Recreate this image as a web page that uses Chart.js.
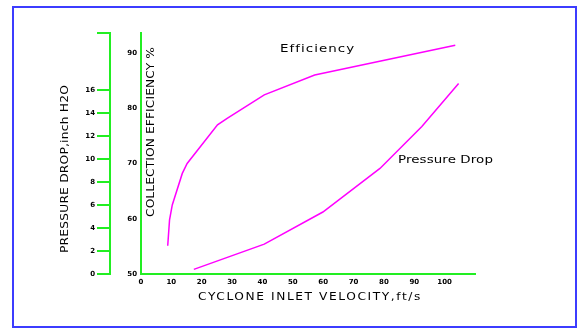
<!DOCTYPE html>
<html>
<head>
<meta charset="utf-8">
<script src="https://cdn.jsdelivr.net/npm/chart.js@4"></script>
<style>
    html, body { margin: 0; padding: 0; background: #fff; }
    #wrap { width: 577px; height: 329px; }
</style>
</head>
<body>
<div id="wrap"><canvas id="chartCiclon"></canvas></div>
<script>
const velocidadEfic = [8.8, 9.4, 10.3, 13.6, 15.2, 25.2, 28.5, 40.6, 57.2, 103.5];
const eficiencia = [55.1, 59.8, 62.5, 68.2, 70.0, 77.0, 78.2, 82.4, 86.0, 91.4];
const velocidadPres = [17.4, 40.6, 59.9, 78.7, 92.5, 104.6];
const presion = [0.4, 2.6, 5.4, 9.2, 12.85, 16.6];

const ticksX = [0, 10, 20, 30, 40, 50, 60, 70, 80, 90, 100];
const ticksEfic = [50, 60, 70, 80, 90];
const ticksPres = [0, 2, 4, 6, 8, 10, 12, 14, 16];

const tituloX = 'CYCLONE INLET VELOCITY,ft/s';
const tituloPres = 'PRESSURE DROP,inch H2O';
const tituloEfic = 'COLLECTION EFFICIENCY %';

const verde = '#22ee22';
const magenta = '#ff00ff';
const fuenteTicks = { family: 'DejaVu Sans', size: 7, weight: 'bold' };

// texto ajustado a un ancho: primero se ensancha un poco, luego letterSpacing
const textoAncho = (ctx, texto, x, y, ancho, angulo = 0) => {
    ctx.save();
    ctx.translate(x, y);
    ctx.rotate(angulo);
    ctx.letterSpacing = '0px';
    const w = ctx.measureText(texto).width;
    const escala = Math.min(1.22, ancho / w);
    const esp = Math.max(0, (ancho / escala - w) / texto.length);
    ctx.scale(escala, 1);
    ctx.letterSpacing = esp + 'px';
    ctx.textAlign = 'left';
    ctx.textBaseline = 'middle';
    ctx.fillText(texto, -ancho / escala / 2, 0);
    ctx.restore();
};

const textos = {
    id: 'textos',
    beforeDraw(chart) {
        const ctx = chart.ctx;
        ctx.save();
        ctx.fillStyle = '#fff';
        ctx.fillRect(0, 0, chart.width, chart.height);
        ctx.strokeStyle = '#3c3cff';
        ctx.lineWidth = 2;
        ctx.strokeRect(13, 7, 563, 320);
        ctx.restore();
    },
    afterDraw(chart) {
        const ctx = chart.ctx;
        ctx.save();
        ctx.fillStyle = '#000';
        ctx.font = '10px "DejaVu Sans"';
        textoAncho(ctx, tituloX, 310, 297, 224);
        textoAncho(ctx, tituloPres, 65, 169, 168, -Math.PI / 2);
        textoAncho(ctx, tituloEfic, 151.5, 132, 170, -Math.PI / 2);
        ctx.font = '11px "DejaVu Sans"';
        textoAncho(ctx, chart.data.datasets[0].label, 317.5, 49, 75);
        textoAncho(ctx, chart.data.datasets[1].label, 445.5, 160.5, 95);
        ctx.restore();
    }
};

const ctx = document.getElementById('chartCiclon').getContext('2d');

const chartCiclon = new Chart(ctx, {
    type: 'line',
    data: {
        datasets: [{
            label: 'Efficiency',
            data: velocidadEfic.map((v, i) => ({ x: v, y: eficiencia[i] })),
            yAxisID: 'yEfic',
            borderColor: magenta,
            borderWidth: 1.5,
            pointRadius: 0,
            tension: 0
        }, {
            label: 'Pressure Drop',
            data: velocidadPres.map((v, i) => ({ x: v, y: presion[i] })),
            yAxisID: 'yPres',
            borderColor: magenta,
            borderWidth: 1.5,
            pointRadius: 0,
            tension: 0
        }]
    },
    options: {
        responsive: true,
        maintainAspectRatio: false,
        animation: false,
        layout: { padding: { left: 70, top: 33, right: 102, bottom: 35 } },
        plugins: {
            legend: { display: false },
            tooltip: { enabled: false }
        },
        scales: {
            x: {
                type: 'linear',
                min: 0,
                max: 110,
                afterBuildTicks: axis => { axis.ticks = ticksX.map(v => ({ value: v })); },
                afterFit: axis => { axis.height = 20; },
                grid: { display: false, drawTicks: false },
                border: { display: true, color: verde, width: 2 },
                ticks: { color: '#000', font: fuenteTicks, padding: 4, maxRotation: 0, autoSkip: false }
            },
            yEfic: {
                type: 'linear',
                position: 'left',
                weight: 0,
                min: 50,
                max: 93.6,
                afterBuildTicks: axis => { axis.ticks = ticksEfic.map(v => ({ value: v })); },
                afterFit: axis => { axis.width = 31; },
                grid: { display: false, drawTicks: false },
                border: { display: true, color: verde, width: 2 },
                ticks: { color: '#000', font: fuenteTicks, padding: 4, autoSkip: false }
            },
            yPres: {
                type: 'linear',
                position: 'left',
                weight: 10,
                min: 0,
                max: 21,
                afterBuildTicks: axis => {
                    axis.ticks = ticksPres.map(v => ({ value: v })).concat([{ value: 21 }]);
                },
                afterFit: axis => { axis.width = 40; },
                grid: { display: true, drawOnChartArea: false, drawTicks: true, tickLength: 13, color: verde, lineWidth: 2 },
                border: { display: true, color: verde, width: 2 },
                ticks: {
                    color: '#000',
                    font: fuenteTicks,
                    padding: 2,
                    autoSkip: false,
                    callback: v => ticksPres.includes(v) ? String(v) : ''
                }
            }
        }
    },
    plugins: [textos]
});
</script>
</body>
</html>
